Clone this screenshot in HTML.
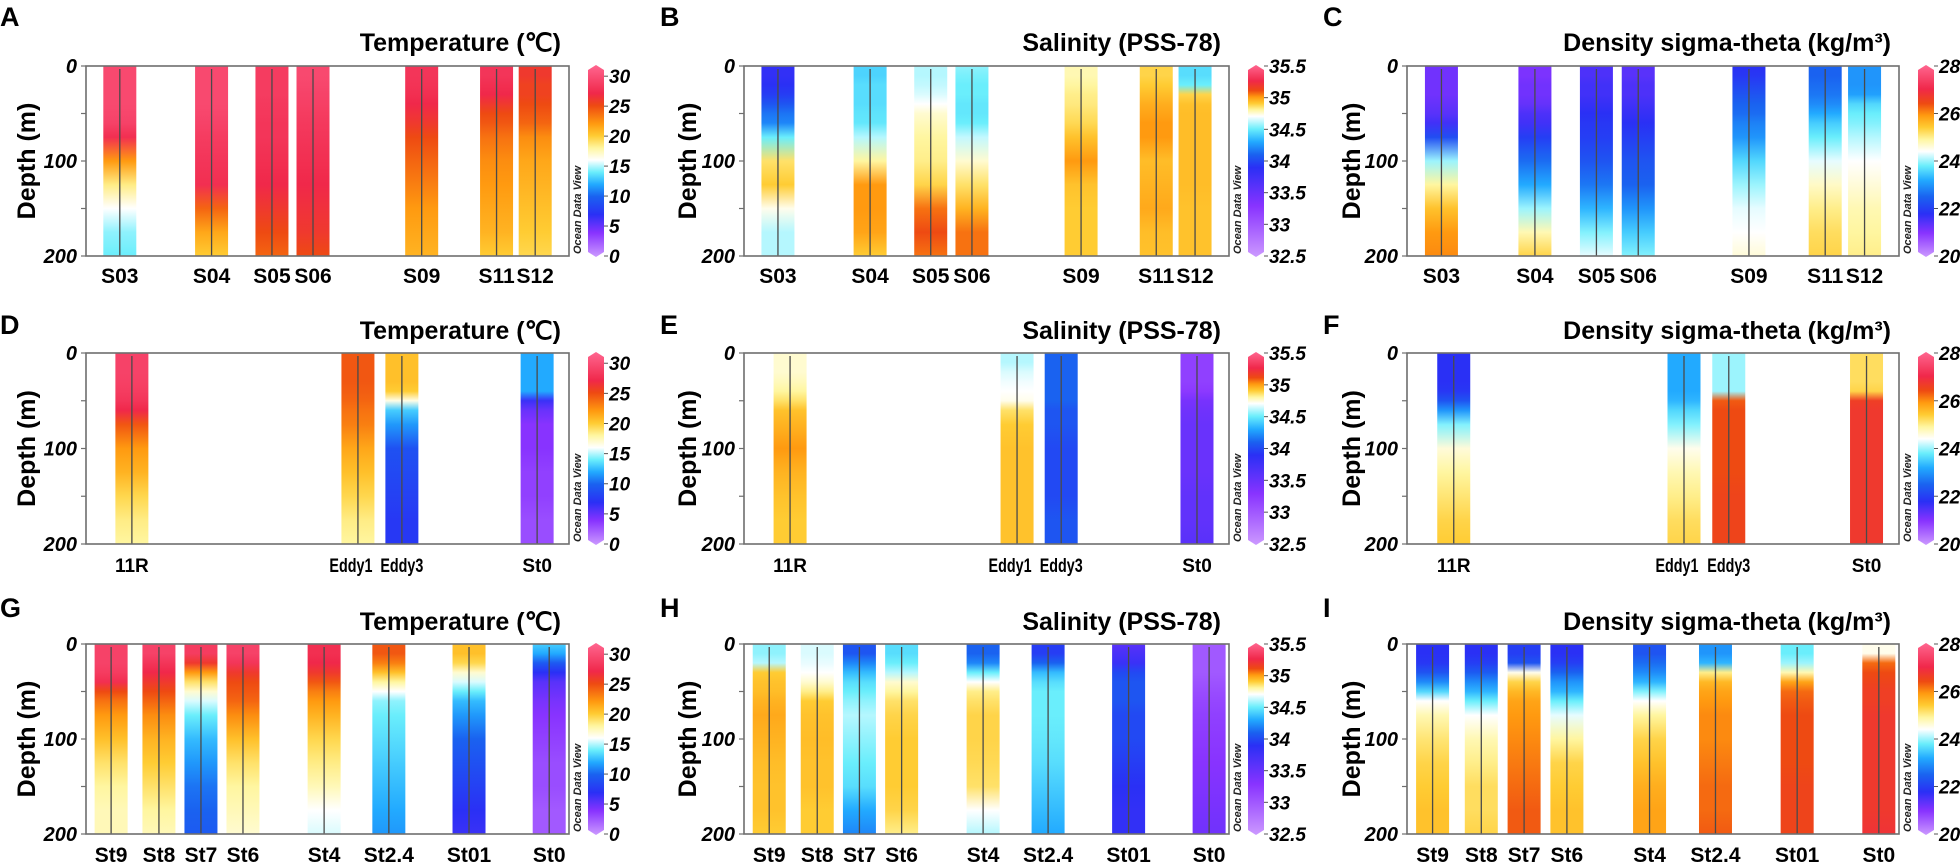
<!DOCTYPE html>
<html><head><meta charset="utf-8"><title>Ocean profiles</title>
<style>html,body{margin:0;padding:0;background:#fff;}svg{display:block;font-family:"Liberation Sans",Arial,sans-serif;}</style>
</head><body>
<svg id="fig" width="1960" height="868" viewBox="0 0 1960 868" xmlns="http://www.w3.org/2000/svg"><defs id="defs"></defs></svg>
<script>
const depths=[0,10,20,30,40,50,60,75,100,125,150,175,200];
const row1Stations=["S03","S04","S05","S06","S09","S11","S12"];
const row2Stations=["11R","Eddy1","Eddy3","St0"];
const row3Stations=["St9","St8","St7","St6","St4","St2.4","St01","St0"];
const row1X=[7,26,38.5,47,69.5,85,93];
const row2X=[9.5,56.3,65.4,93.4];
const row3X=[5.2,15.1,23.8,32.5,49.3,62.7,79.3,95.9];
const colorList=["#cc99ff","#8833ff","#2a30f5","#1a62f0","#22aaff","#6aeefc","#ffffff","#fff6a0","#ffcc33","#ff9a10","#ee4a12","#f0284a","#ff6690"];
const tempStops=[0,4,7,10,12,14,16,18,20,22,25,27,31.7];
const salStops=[32.5,33.3,33.9,34.1,34.3,34.5,34.7,34.8,34.9,35.0,35.1,35.25,35.5];
const densStops=[20,21,21.8,22.5,23.2,23.8,24.4,24.9,25.4,25.9,26.4,27,28];
const tempTicks=[0,5,10,15,20,25,30];
const salTicks=[32.5,33,33.5,34,34.5,35,35.5];
const densTicks=[20,22,24,26,28];
const tempA=[[29.5,29.5,29.5,29.5,29.5,29.3,29,27.5,22,18.5,16,14.5,14],[29.5,29.5,29.5,29.5,29.5,29.3,29,28.5,28,27.5,24,21.5,20],[28.5,28.5,28.5,28.5,28.3,28.2,28,28,27.5,27,26,25,24],[29.5,29.5,29.3,29,28.8,28.5,28.3,28,27.5,27,26.5,26,25],[28,28,27.8,27.5,27,26.5,26,25,24,23,22,21.5,21],[28,28,27.5,27,26,25,24.5,23.5,22.5,22,21.5,21,20],[26,26,25.5,25.5,25,24.5,24,22.5,21.5,21,20.5,20,19.5]];
const salB=[[33.85,33.85,33.9,33.95,34.05,34.15,34.2,34.5,34.85,34.9,34.72,34.6,34.6],[34.42,34.42,34.45,34.45,34.45,34.47,34.48,34.6,34.8,35.0,35.0,34.98,34.9],[34.6,34.6,34.62,34.65,34.7,34.75,34.77,34.8,34.82,34.88,35.05,35.1,35.05],[34.55,34.52,34.5,34.5,34.48,34.48,34.5,34.62,34.75,34.85,34.95,35.05,35.05],[34.78,34.78,34.8,34.82,34.83,34.85,34.87,34.92,35.0,34.92,34.9,34.9,34.9],[34.88,34.88,34.9,34.93,34.96,34.98,35.0,35.0,34.93,34.95,34.97,34.93,34.92],[34.45,34.45,34.5,34.88,34.92,34.93,34.93,34.93,34.93,34.93,34.92,34.92,34.92]];
const densC=[[21.2,21.2,21.2,21.2,21.3,21.4,21.6,22.2,24.0,24.9,25.5,25.9,26.0],[21.1,21.1,21.2,21.2,21.3,21.5,21.6,22.0,22.6,23.2,24.0,24.8,25.3],[21.5,21.5,21.6,21.6,21.7,21.8,21.9,22.0,22.3,22.7,23.3,23.9,24.3],[21.4,21.4,21.5,21.5,21.6,21.7,21.8,22.0,22.3,22.5,23.0,23.5,23.9],[21.8,21.9,22.1,22.3,22.5,22.6,22.8,23.0,23.6,24.0,24.3,24.4,24.6],[22.5,22.5,22.6,22.7,22.9,23.2,23.5,23.8,24.3,24.7,25.0,25.2,25.3],[23.0,23.0,23.0,23.1,23.6,23.8,23.9,24.1,24.4,24.6,24.8,24.9,25.0]];
const tempD=[[29,29,29,28.8,28.5,28,27,24.5,22,21,19.5,18.5,18],[24.5,24.5,24.5,24.5,24.3,24,23.5,23,21.5,20.5,19.5,18.5,18],[20.5,20.5,20.5,20.5,20,16.5,13,11.5,9,8.5,8,7.5,7.5],[12,12,12,12,12,6.5,5,4,4,3.5,3.5,3,3]];
const salE=[[34.75,34.75,34.75,34.77,34.8,34.85,34.92,34.95,35.0,34.95,34.92,34.9,34.9],[34.6,34.6,34.65,34.68,34.7,34.72,34.85,34.9,34.92,34.92,34.92,34.92,34.92],[34.1,34.1,34.1,34.1,34.1,34.1,34.05,34.05,34.0,34.0,34.0,34.05,34.05],[33.2,33.2,33.2,33.2,33.25,33.4,33.45,33.5,33.5,33.5,33.55,33.55,33.6]];
const densF=[[21.8,21.8,21.8,21.8,21.9,22.3,23.0,23.9,24.6,24.9,25.1,25.3,25.4],[23.2,23.2,23.2,23.2,23.2,23.3,23.6,23.9,24.5,24.8,25.0,25.2,25.3],[24.0,24.0,24.0,24.0,24.0,26.3,26.4,26.4,26.4,26.4,26.5,26.5,26.5],[25.2,25.2,25.2,25.2,25.3,26.6,26.7,26.7,26.7,26.7,26.7,26.7,26.7]];
const tempG=[[29,29,29,28.5,27.5,25,23.5,22,20.5,19,18,17.5,17.5],[29,29,28,27,26,25,24,22.5,21,20,19,18,17.5],[28.5,28.5,26,22,19,17,15.5,14,12.5,11.5,10.5,10,9.5],[29,29,28,26,25,24.5,24,22.5,20.5,19,18,17.5,17],[27.5,27.5,27,26,24.5,23,22,21,19.5,18.5,17.5,16,15.5],[24.5,24.5,23,20.5,18,16,14.5,14,13.5,13,12.5,12,11.5],[20.5,20.5,19.5,17,15.5,14,12.5,11.5,10,9,8,7,6.5],[13,12,9.5,7,5.5,5,4.5,4,3.5,3,3,2.5,2.5]];
const salH=[[34.55,34.55,34.6,34.9,34.92,34.93,34.95,34.97,34.95,34.93,34.92,34.92,34.9],[34.65,34.65,34.67,34.7,34.75,34.82,34.9,34.92,34.93,34.92,34.92,34.9,34.9],[34.05,34.05,34.2,34.35,34.45,34.5,34.55,34.6,34.55,34.5,34.45,34.3,34.2],[34.45,34.45,34.5,34.6,34.75,34.8,34.85,34.88,34.9,34.9,34.9,34.88,34.82],[34.1,34.1,34.2,34.5,34.7,34.82,34.85,34.88,34.88,34.87,34.85,34.7,34.6],[33.95,33.95,34.1,34.35,34.45,34.5,34.5,34.5,34.48,34.45,34.4,34.35,34.3],[33.6,33.7,33.8,34.0,34.05,34.05,34.05,34.0,34.0,33.95,33.9,33.85,33.85],[33.0,33.0,33.0,33.0,33.05,33.1,33.15,33.2,33.25,33.3,33.35,33.4,33.45]];
const densI=[[21.8,21.8,21.9,22.3,22.9,23.6,24.4,24.8,25.1,25.3,25.4,25.5,25.5],[21.8,21.8,22.0,22.4,22.9,23.3,23.8,24.4,24.8,25.0,25.2,25.2,25.3],[22.0,22.0,22.3,24.5,25.3,25.6,25.8,25.9,26.0,26.1,26.2,26.3,26.3],[21.8,21.8,22.0,22.5,23.0,23.3,23.8,24.3,24.9,25.3,25.4,25.5,25.5],[22.3,22.3,22.6,22.9,23.3,23.9,24.4,24.9,25.3,25.5,25.7,25.8,25.8],[23.0,23.0,23.3,25.0,25.6,25.8,25.9,26.0,26.0,26.1,26.2,26.2,26.3],[23.8,23.8,24.0,24.8,25.8,26.2,26.3,26.4,26.4,26.4,26.5,26.5,26.5],[24.5,24.5,26.2,26.4,26.5,26.6,26.6,26.7,26.7,26.7,26.7,26.7,26.8]];

const NS="http://www.w3.org/2000/svg";
const svg=document.getElementById('fig');
const defs=document.getElementById('defs');
function mk(tag,attrs,parent){const e=document.createElementNS(NS,tag);for(const k in attrs)e.setAttribute(k,attrs[k]);(parent||svg).appendChild(e);return e;}
function hex2rgb(h){return [parseInt(h.substr(1,2),16),parseInt(h.substr(3,2),16),parseInt(h.substr(5,2),16)];}
function colorFor(v,stops){
  if(v<=stops[0])return colorList[0];
  if(v>=stops[stops.length-1])return colorList[colorList.length-1];
  for(let i=0;i<stops.length-1;i++){
    if(v>=stops[i]&&v<=stops[i+1]){
      const t=(v-stops[i])/(stops[i+1]-stops[i]);
      const a=hex2rgb(colorList[i]),b=hex2rgb(colorList[i+1]);
      return 'rgb('+a.map((c,j)=>Math.round(c+(b[j]-c)*t)).join(',')+')';
    }
  }
  return colorList[0];
}
const cols=[{x0:86,w:483,lx:0,dl:27},{x0:744,w:485,lx:660,dl:688},{x0:1407,w:492,lx:1323,dl:1352}];
const rows=[{top:66,bot:256,letterY:26,titleY:51,labY:283,fs:21,tl:0},{top:353,bot:544,letterY:334,titleY:339,labY:572,fs:19,tl:43},{top:644,bot:834,letterY:617,titleY:630,labY:862,fs:21,tl:0}];
const varDefs=[{title:"Temperature (℃)",stops:tempStops,ticks:tempTicks,min:0,max:31.7},{title:"Salinity (PSS-78)",stops:salStops,ticks:salTicks,min:32.5,max:35.5},{title:"Density sigma-theta (kg/m³)",stops:densStops,ticks:densTicks,min:20,max:28}];
const panelData=[[tempA,salB,densC],[tempD,salE,densF],[tempG,salH,densI]];
const rowSt=[row1Stations,row2Stations,row3Stations];
const rowXs=[row1X,row2X,row3X];
const letters=["A","B","C","D","E","F","G","H","I"];
let gid=0;
for(let r=0;r<3;r++)for(let c=0;c<3;c++){
  const col=cols[c],row=rows[r],vd=varDefs[c],data=panelData[r][c];
  const g=mk('g',{});
  
  
  const xS=v=>col.x0+v/100*col.w;
  const yS=d=>row.top+d/200*(row.bot-row.top);
  const L=mk('text',{x:col.lx,y:row.letterY,'font-size':27,'font-weight':'bold',fill:'#000'},g);L.textContent=letters[r*3+c];
  
  
  const T=mk('text',{x:col.x0+col.w-8,y:row.titleY,'font-size':25,'font-weight':'bold','text-anchor':'end',fill:'#000'},g);T.textContent=vd.title;
  
  
  const cy=(row.top+row.bot)/2;
  const Y=mk('text',{x:col.dl,y:cy,'font-size':25,'font-weight':'bold','text-anchor':'middle','dominant-baseline':'central',transform:'rotate(-90 '+col.dl+' '+cy+')'},g);Y.textContent="Depth (m)";
  
  
  const xs=rowXs[r],names=rowSt[r];
  for(let s=0;s<names.length;s++){
    const id='gr'+(gid++);
    const lg=mk('linearGradient',{id:id,x1:0,y1:0,x2:0,y2:1},defs);
    for(let k=0;k<depths.length;k++)mk('stop',{offset:depths[k]/200,'stop-color':colorFor(data[s][k],vd.stops)},lg);
    const cx=xS(xs[s]);
    const bar=mk('rect',{x:cx-16.5,y:yS(0),width:33,height:yS(200)-yS(0),fill:'url(#'+id+')'},g);
    
    
    const ln=mk('line',{x1:cx,x2:cx,y1:yS(0)+3,y2:yS(200),stroke:'#4a4a4a','stroke-width':1.3},g);
    
    
    const lx=(names[s]==="Eddy1")?cx-7:cx;
    const la={x:lx,y:row.labY,'font-size':row.fs,'font-weight':'bold','text-anchor':'middle'};
    if(row.tl&&names[s].length>3){la.textLength=row.tl;la.lengthAdjust='spacingAndGlyphs';}
    const lb=mk('text',la,g);lb.textContent=names[s];
    
    
  }
  const fr=mk('rect',{x:col.x0,y:row.top,width:col.w,height:row.bot-row.top,fill:'none',stroke:'#6e6e6e','stroke-width':1.6},g);
  
  
  [0,50,100,150,200].forEach(d=>{
    const t=mk('line',{x1:col.x0-5,x2:col.x0,y1:yS(d),y2:yS(d),stroke:'#6e6e6e','stroke-width':1.2},g);
    
    
    if(d%100===0){
      const tl=mk('text',{x:col.x0-9,y:yS(d)+7,'font-size':20,'font-weight':'bold','font-style':'italic','text-anchor':'end'},g);tl.textContent=d;
      
      
    }
  });
  const bx=col.x0+col.w+19,bw=16,top=row.top,bot=row.bot;
  const cid='cb'+r+c;
  const cg=mk('linearGradient',{id:cid,x1:0,y1:1,x2:0,y2:0},defs);
  for(let k=0;k<vd.stops.length;k++)mk('stop',{offset:(vd.stops[k]-vd.min)/(vd.max-vd.min),'stop-color':colorList[k]},cg);
  const cb=mk('path',{d:'M'+bx+' '+(top+4)+' L'+(bx+bw/2)+' '+(top-1)+' L'+(bx+bw)+' '+(top+4)+' L'+(bx+bw)+' '+(bot-4)+' L'+(bx+bw/2)+' '+(bot+1)+' L'+bx+' '+(bot-4)+'Z',fill:'url(#'+cid+')'},g);
  
  
  const cS=v=>bot-(v-vd.min)/(vd.max-vd.min)*(bot-top);
  vd.ticks.forEach(v=>{
    const tk=mk('line',{x1:bx+bw,x2:bx+bw+4,y1:cS(v),y2:cS(v),stroke:'#555','stroke-width':1},g);
    
    
    const tl=mk('text',{x:bx+bw+5,y:cS(v)+7,'font-size':19,'font-weight':'bold','font-style':'italic'},g);tl.textContent=v;
    
    
  });
  const ox=bx-7,oy=bot-2;
  const od=mk('text',{x:ox,y:oy,'font-size':11,'font-style':'italic','font-weight':'bold',transform:'rotate(-90 '+ox+' '+oy+')',fill:'#222'},g);od.textContent="Ocean Data View";
  
  
}
</script>
</body></html>
